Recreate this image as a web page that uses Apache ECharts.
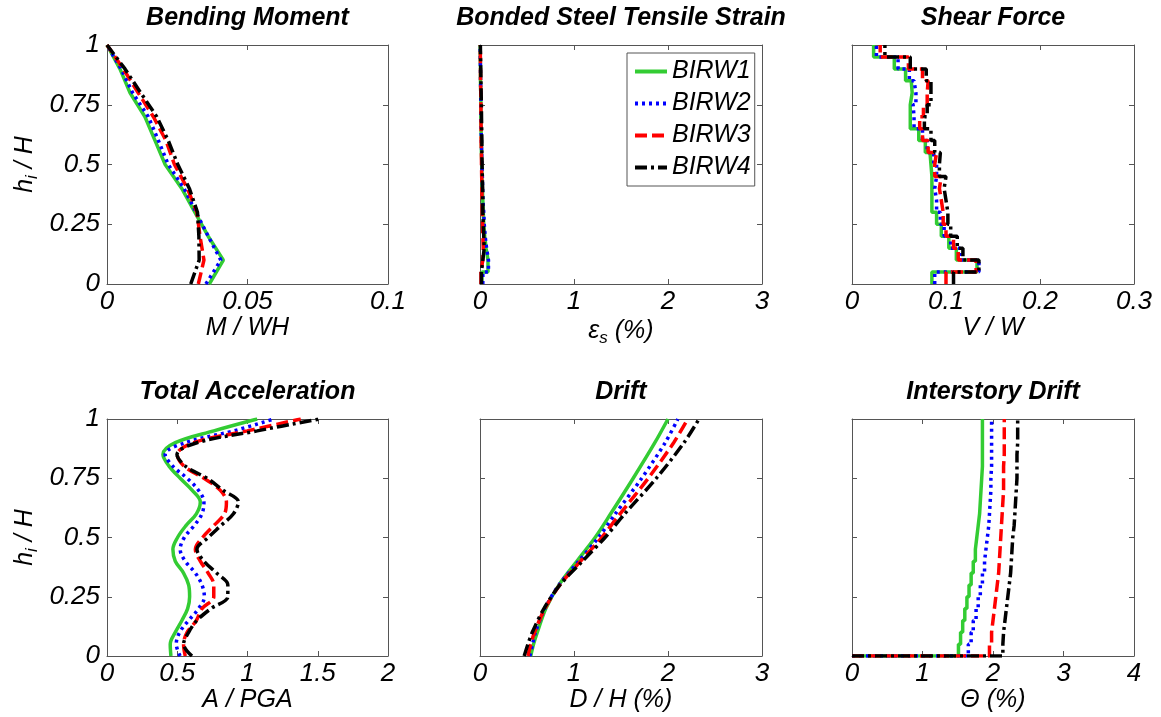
<!DOCTYPE html>
<html><head><meta charset="utf-8">
<script src="https://cdn.jsdelivr.net/npm/echarts@6/dist/echarts.min.js"></script>
<style>html,body{margin:0;padding:0;background:#fff}#c{width:1161px;height:717px}</style>
</head><body><div id="c"></div>
<script>
var seriesNames = ['BIRW1', 'BIRW2', 'BIRW3', 'BIRW4'];
var titles = ['Bending Moment', 'Bonded Steel Tensile Strain', 'Shear Force', 'Total Acceleration', 'Drift', 'Interstory Drift'];
var xMax = [0.1, 3, 0.3, 2, 3, 4];
var xInterval = [0.05, 1, 0.1, 0.5, 1, 1];
var yTicks = [0, 0.25, 0.5, 0.75, 1];

// Bending moment (M/WH) at heights
var bmH = [0, 0.1, 0.2, 0.3, 0.4, 0.5, 0.6, 0.7, 0.8, 0.9, 1];
var bm1 = [0.0364, 0.0414, 0.0360, 0.0313, 0.0266, 0.0207, 0.0171, 0.0135, 0.0082, 0.0046, 0];
var bm2 = [0.0352, 0.0405, 0.0360, 0.0317, 0.0274, 0.0218, 0.0183, 0.0147, 0.0091, 0.0050, 0];
var bm3 = [0.0325, 0.0345, 0.0331, 0.0320, 0.0286, 0.0240, 0.0210, 0.0165, 0.0111, 0.0058, 0];
var bm4 = [0.0298, 0.0328, 0.0327, 0.0322, 0.0293, 0.0252, 0.0218, 0.0177, 0.0120, 0.0064, 0];

// Story boundaries (20 stories)
var levels = [0, 0.05, 0.1, 0.15, 0.2, 0.25, 0.3, 0.35, 0.4, 0.45, 0.5, 0.55, 0.6, 0.65, 0.7, 0.75, 0.8, 0.85, 0.9, 0.95, 1];

// Steel strain (%) per story, bottom to top
var st1 = [0.02, 0.085, 0.065, 0.05, 0.04, 0.035, 0.03, 0.025, 0.02, 0.02, 0.015, 0.015, 0.01, 0.01, 0.01, 0.008, 0.005, 0.005, 0.003, 0.002];
var st2 = [0.03, 0.09, 0.07, 0.055, 0.045, 0.04, 0.03, 0.028, 0.025, 0.02, 0.018, 0.015, 0.012, 0.01, 0.01, 0.008, 0.006, 0.005, 0.003, 0.002];
var st3 = [0.01, 0.03, 0.035, 0.03, 0.028, 0.025, 0.022, 0.02, 0.018, 0.016, 0.015, 0.012, 0.012, 0.01, 0.01, 0.008, 0.006, 0.005, 0.004, 0.003];
var st4 = [0.015, 0.03, 0.045, 0.04, 0.035, 0.03, 0.03, 0.028, 0.025, 0.022, 0.02, 0.02, 0.018, 0.016, 0.015, 0.012, 0.01, 0.008, 0.006, 0.004];

// Shear force (V/W) per story, bottom to top
var sh1 = [0.085, 0.133, 0.111, 0.103, 0.095, 0.090, 0.085, 0.085, 0.085, 0.084, 0.083, 0.078, 0.071, 0.062, 0.062, 0.064, 0.063, 0.057, 0.045, 0.023];
var sh2 = [0.088, 0.135, 0.115, 0.105, 0.098, 0.094, 0.090, 0.088, 0.090, 0.090, 0.087, 0.080, 0.075, 0.066, 0.065, 0.068, 0.066, 0.061, 0.049, 0.026];
var sh3 = [0.100, 0.132, 0.113, 0.108, 0.100, 0.097, 0.095, 0.093, 0.095, 0.088, 0.090, 0.081, 0.075, 0.072, 0.076, 0.080, 0.081, 0.075, 0.060, 0.030];
var sh4 = [0.108, 0.135, 0.118, 0.112, 0.105, 0.102, 0.100, 0.098, 0.100, 0.093, 0.094, 0.088, 0.084, 0.077, 0.080, 0.084, 0.084, 0.079, 0.062, 0.035];

// Total acceleration (A/PGA) at heights
var accH = [0, 0.05, 0.1, 0.15, 0.2, 0.25, 0.3, 0.35, 0.4, 0.45, 0.5, 0.55, 0.6, 0.65, 0.7, 0.75, 0.8, 0.85, 0.9, 0.95, 1];
var acc1 = [0.455, 0.45, 0.486, 0.533, 0.574, 0.588, 0.581, 0.545, 0.486, 0.469, 0.502, 0.562, 0.636, 0.664, 0.605, 0.521, 0.443, 0.398, 0.486, 0.76, 1.069];
var acc2 = [0.52, 0.493, 0.517, 0.581, 0.652, 0.693, 0.676, 0.629, 0.557, 0.521, 0.55, 0.62, 0.676, 0.69, 0.65, 0.57, 0.47, 0.414, 0.557, 0.902, 1.188];
var acc3 = [0.557, 0.545, 0.57, 0.636, 0.676, 0.76, 0.76, 0.72, 0.664, 0.629, 0.68, 0.76, 0.836, 0.85, 0.805, 0.69, 0.55, 0.5, 0.617, 0.998, 1.379];
var acc4 = [0.605, 0.545, 0.581, 0.64, 0.74, 0.86, 0.86, 0.78, 0.69, 0.64, 0.72, 0.81, 0.9, 0.935, 0.824, 0.712, 0.56, 0.498, 0.64, 1.069, 1.51];

// Drift (D/H %) at heights
var drH = [0, 0.05, 0.1, 0.2, 0.3, 0.4, 0.5, 0.6, 0.75, 0.9, 1];
var dr1 = [0.54, 0.57, 0.61, 0.70, 0.84, 1.03, 1.225, 1.39, 1.63, 1.86, 2.0];
var dr2 = [0.53, 0.56, 0.59, 0.69, 0.84, 1.05, 1.26, 1.44, 1.72, 1.97, 2.105];
var dr3 = [0.51, 0.54, 0.58, 0.69, 0.85, 1.07, 1.295, 1.49, 1.79, 2.06, 2.21];
var dr4 = [0.47, 0.51, 0.556, 0.68, 0.85, 1.09, 1.33, 1.54, 1.876, 2.17, 2.33];

// Interstory drift (%) per story, bottom to top
var id1 = [1.51, 1.54, 1.57, 1.60, 1.63, 1.66, 1.69, 1.72, 1.75, 1.77, 1.79, 1.81, 1.82, 1.83, 1.84, 1.85, 1.85, 1.85, 1.85, 1.85];
var id2 = [1.65, 1.69, 1.72, 1.76, 1.79, 1.82, 1.85, 1.88, 1.90, 1.92, 1.94, 1.95, 1.96, 1.97, 1.97, 1.98, 1.98, 1.98, 1.98, 1.98];
var id3 = [1.95, 1.98, 2.00, 2.02, 2.04, 2.06, 2.08, 2.09, 2.10, 2.11, 2.12, 2.13, 2.14, 2.15, 2.15, 2.15, 2.16, 2.16, 2.16, 2.16];
var id4 = [2.14, 2.15, 2.17, 2.19, 2.21, 2.23, 2.25, 2.26, 2.27, 2.28, 2.30, 2.31, 2.32, 2.33, 2.34, 2.34, 2.34, 2.35, 2.35, 2.35];

var colors = ['#33cc33', '#0000ff', '#ff0000', '#000000'];
var dashes = ['solid', [3, 4], [12, 5], [12, 4, 3, 4]];

function pairs(xs, hs) { return xs.map(function (x, i) { return [x, hs[i]]; }); }
function steps(vals, withBase) {
  var out = [];
  if (withBase) out.push([0, levels[0]]);
  vals.forEach(function (v, i) { out.push([v, levels[i]]); out.push([v, levels[i + 1]]); });
  return out;
}

var FONT = 'Liberation Sans';
var grids = [], xAxes = [], yAxes = [], series = [], graphics = [];
var lefts = [107, 480, 852], widths = [281, 282, 282];
var tops = [45, 419], heights = [239, 237];
var axisColor = '#555';
var xNames = ['{i|M / WH}', '{i|ε}{sub|s}{i| (%)}', '{i|V / W}', '{i|A / PGA}', '{i|D / H (%)}', '{i|Θ (%)}'];
var rich = { i: { fontSize: 25, fontStyle: 'italic', fontFamily: FONT, color: '#000' },
             sub: { fontSize: 17, fontStyle: 'italic', fontFamily: FONT, color: '#000', padding: [14, 0, 0, 0] } };

for (var g = 0; g < 6; g++) {
  var r = Math.floor(g / 3), c = g % 3;
  grids.push({ left: lefts[c], top: tops[r], width: widths[c], height: heights[r], containLabel: false });
  var common = { type: 'value', gridIndex: g, min: 0, axisLine: { show: true, onZero: false, lineStyle: { color: axisColor, width: 1 } },
    axisTick: { show: true, inside: true, length: 5, lineStyle: { color: axisColor } }, splitLine: { show: false } };
  xAxes.push(Object.assign({}, common, { position: 'bottom', max: xMax[g], interval: xInterval[g],
    axisLabel: { show: true, margin: 5, fontSize: 26, fontStyle: 'italic', fontFamily: FONT, color: '#000' },
    name: xNames[g], nameLocation: 'middle', nameGap: 32, nameTextStyle: { rich: rich } }));
  xAxes.push(Object.assign({}, common, { position: 'top', max: xMax[g], interval: xInterval[g], axisLabel: { show: false } }));
  var yl = Object.assign({}, common, { position: 'left', max: 1, interval: 0.25,
    axisLabel: { show: c === 0, margin: 7, fontSize: 26, fontStyle: 'italic', fontFamily: FONT, color: '#000',
      formatter: function (v) { return String(v); } } });
  if (c === 0) {
    yl.name = '{i|h}{sub|i}{i| / H}'; yl.nameLocation = 'middle'; yl.nameGap = 66; yl.nameRotate = 90;
    yl.nameTextStyle = { rich: rich };
  }
  yAxes.push(yl);
  yAxes.push(Object.assign({}, common, { position: 'right', max: 1, interval: 0.25, axisLabel: { show: false } }));
  graphics.push({ type: 'text', x: lefts[c] + widths[c] / 2, y: tops[r] - 27,
    style: { text: titles[g], font: 'italic bold 25px "' + FONT + '"', fill: '#000', align: 'center', verticalAlign: 'middle' } });
}

var panelData = [
  [pairs(bm1, bmH), pairs(bm2, bmH), pairs(bm3, bmH), pairs(bm4, bmH)],
  [steps(st1), steps(st2), steps(st3), steps(st4)],
  [steps(sh1), steps(sh2), steps(sh3), steps(sh4)],
  [pairs(acc1, accH), pairs(acc2, accH), pairs(acc3, accH), pairs(acc4, accH)],
  [pairs(dr1, drH), pairs(dr2, drH), pairs(dr3, drH), pairs(dr4, drH)],
  [steps(id1, true), steps(id2, true), steps(id3, true), steps(id4, true)]
];
var smoothPanel = [false, false, false, 0.35, 0.3, false];

for (var p = 0; p < 6; p++) {
  for (var s = 0; s < 4; s++) {
    series.push({ type: 'line', name: seriesNames[s], xAxisIndex: p * 2, yAxisIndex: p * 2,
      data: panelData[p][s], symbol: 'none', showSymbol: false, smooth: smoothPanel[p],
      lineStyle: { color: colors[s], width: 3.5, type: dashes[s] }, itemStyle: { color: colors[s] },
      z: 2 + s });
  }
}

var chart = echarts.init(document.getElementById('c'), null, { renderer: 'canvas' });
chart.setOption({
  animation: false,
  backgroundColor: '#fff',
  grid: grids, xAxis: xAxes, yAxis: yAxes, series: series,
  graphic: graphics,
  legend: { data: seriesNames, orient: 'vertical', left: 627, top: 53, itemWidth: 32, itemHeight: 14, itemGap: 7,
    padding: [6, 4, 6, 6], borderColor: '#555', borderWidth: 1, backgroundColor: '#fff',
    itemStyle: { opacity: 0 }, lineStyle: { width: 4 },
    textStyle: { fontSize: 25, fontStyle: 'italic', fontFamily: FONT, color: '#000', lineHeight: 24 } }
});
</script></body></html>
